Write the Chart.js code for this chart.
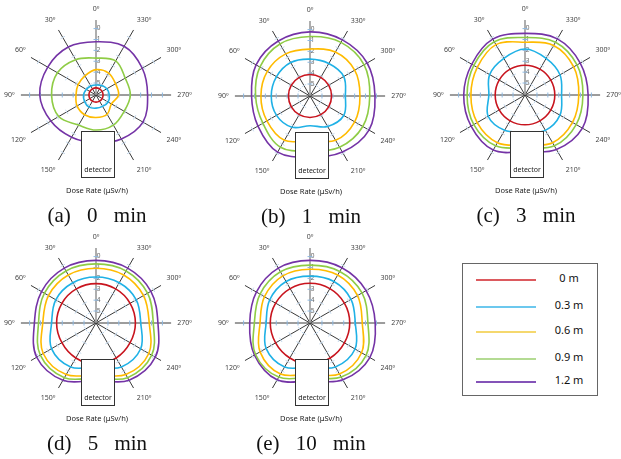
<!DOCTYPE html>
<html>
<head>
<meta charset="utf-8">
<script src="https://cdn.jsdelivr.net/npm/chart.js@4.4.1/dist/chart.umd.min.js"></script>
<style>
  body { margin: 0; background: #fff; }
  #page { position: relative; width: 621px; height: 459px; overflow: hidden; font-family: "Noto Sans", Arial, sans-serif; }
  .plot { position: absolute; width: 192px; height: 192px; }
  .detector { position: absolute; width: 32px; height: 45px; border: 1.5px solid #333; background: #fff;
              font-size: 7px; color: #222; text-align: center; box-sizing: content-box; }
  .detector span { position: absolute; left: 0; right: 0; bottom: 3px; }
  .unit { position: absolute; width: 120px; text-align: center; font-size: 7.5px; color: #222; }
  .caption { position: absolute; width: 200px; text-align: center; font-family: "Liberation Serif", serif;
             font-size: 21px; color: #111; word-spacing: 11px; white-space: nowrap; }
  #legend { position: absolute; left: 462px; top: 263px; width: 134px; height: 131px; border: 1px solid #666; }
  .row { position: absolute; left: 13px; height: 10px; }
  .row i { position: absolute; left: 0; top: 5px; width: 60px; height: 2px; }
  .row b { position: absolute; left: 73px; width: 40px; text-align: center; top: -4px; font-weight: normal;
           font-size: 11px; color: #111; white-space: nowrap; }
</style>
</head>
<body>
<div id="page"></div>
<script>
// spokes, clockwise from the top (Chart.js order); 180° has no label or line
const angleLabels = ['0º', '330º', '300º', '270º', '240º', '210º', '', '150º', '120º', '90º', '60º', '30º'];
const doseTicks = [0, 1, 2, 3, 4, 5];
const distances = ['0 m', '0.3 m', '0.6 m', '0.9 m', '1.2 m'];
const panelNames = ['(a) 0 min', '(b) 1 min', '(c) 3 min', '(d) 5 min', '(e) 10 min'];

// dose-rate axis values read at each spoke, rows follow distances
const min0 = [
  [5.45, 5.45, 5.45, 5.45, 5.45, 5.45, 5.45, 5.45, 5.45, 5.45, 5.45, 5.45],
  [5.18, 5.09, 4.95, 4.87, 4.81, 4.89, 4.89, 4.81, 4.89, 4.95, 5.07, 5.15],
  [3.77, 3.78, 4.03, 4.03, 4.46, 4.06, 4.03, 4.00, 4.09, 4.26, 4.20, 4.07],
  [2.71, 2.48, 3.00, 2.94, 3.11, 2.91, 2.88, 2.91, 2.15, 2.02, 2.01, 2.35],
  [1.21, 0.93, 1.19, 1.36, 1.12, 1.44, 1.73, 1.62, 1.31, 0.93, 0.98, 1.01]
];
const min1 = [
  [4.12, 4.12, 4.12, 4.12, 4.12, 4.12, 4.12, 4.12, 4.12, 4.12, 4.12, 4.12],
  [2.71, 2.65, 2.52, 2.85, 2.52, 2.87, 3.37, 2.79, 2.55, 2.54, 2.55, 2.55],
  [1.79, 1.44, 1.36, 1.51, 1.36, 1.40, 2.02, 1.40, 1.53, 1.59, 1.57, 1.63],
  [0.64, 0.41, 0.36, 0.61, 0.50, 0.67, 1.07, 0.67, 1.10, 1.10, 0.78, 0.58],
  [0.21, 0.15, 0.04, 0.13, -0.16, 0.15, 0.50, 0.15, 0.58, 0.73, 0.38, 0.27]
];
const min3 = [
  [3.36, 3.36, 3.36, 3.36, 3.36, 3.36, 3.36, 3.36, 3.36, 3.36, 3.36, 3.36],
  [1.88, 2.22, 2.39, 2.74, 2.39, 2.35, 2.71, 2.35, 2.19, 2.78, 2.35, 2.22],
  [1.25, 0.84, 0.93, 1.16, 1.06, 1.04, 1.51, 1.04, 1.03, 1.13, 1.04, 0.76],
  [0.82, 0.50, 0.58, 0.78, 0.67, 0.71, 1.27, 0.71, 0.67, 0.78, 0.67, 0.45],
  [0.44, 0.15, 0.24, 0.30, 0.01, 0.32, 0.90, 0.26, 0.38, 0.47, 0.45, 0.17]
];
const min5 = [
  [2.48, 2.48, 2.48, 2.48, 2.48, 2.39, 2.31, 2.39, 2.48, 2.48, 2.48, 2.48],
  [1.88, 1.83, 1.83, 1.99, 1.36, 1.44, 2.07, 1.44, 1.38, 2.02, 1.83, 1.83],
  [1.07, 1.01, 1.06, 1.21, 0.50, 0.63, 1.36, 0.63, 0.50, 1.21, 1.06, 1.01],
  [0.67, 0.58, 0.63, 0.84, 0.19, 0.30, 1.07, 0.30, 0.19, 0.82, 0.63, 0.58],
  [0.35, 0.28, 0.28, 0.41, -0.19, 0.03, 0.84, 0.03, -0.19, 0.44, 0.32, 0.28]
];
const min10 = [
  [2.45, 2.45, 2.45, 2.45, 2.45, 2.39, 2.31, 2.39, 2.45, 2.45, 2.45, 2.45],
  [1.79, 1.70, 1.75, 1.94, 1.32, 1.44, 2.07, 1.44, 1.44, 2.07, 1.83, 1.70],
  [1.16, 1.01, 1.06, 1.30, 0.63, 0.69, 1.42, 0.69, 0.80, 1.51, 1.27, 1.10],
  [0.78, 0.63, 0.58, 0.78, 0.15, 0.36, 1.13, 0.36, 0.32, 0.99, 0.80, 0.67],
  [0.35, 0.24, 0.15, 0.11, -0.25, 0.07, 0.78, 0.07, 0.21, 0.56, 0.41, 0.28]
];

const panels = [min0, min1, min3, min5, min10];
const centers = [[97, 96], [311, 97], [526, 96], [97, 324], [311, 324]];
const colors = ['#c8141e', '#1fb1e6', '#ffbb00', '#8fcc45', '#7433a6'];
const legendColors = ['#dc5a5f', '#6cc8ee', '#f5d86e', '#b4db93', '#8453b8'];

const page = document.getElementById('page');

// small cross ticks on the spokes, as in the original axes
const spokeTicks = {
  id: 'spokeTicks',
  beforeDatasetsDraw(chart) {
    const s = chart.scales.r;
    const ctx = chart.ctx;
    ctx.save();
    ctx.lineWidth = 1;
    for (let i = 0; i < angleLabels.length; i++) {
      if (!angleLabels[i]) continue;
      const a = s.getIndexAngle(i) - Math.PI / 2;
      const nx = -Math.sin(a), ny = Math.cos(a);
      ctx.strokeStyle = (i % 3 === 0) ? '#8db8e0' : '#c3d8ec';
      doseTicks.forEach(v => {
        const p = s.getPointPositionForValue(i, v);
        ctx.beginPath();
        ctx.moveTo(p.x - nx * 2.5, p.y - ny * 2.5);
        ctx.lineTo(p.x + nx * 2.5, p.y + ny * 2.5);
        ctx.stroke();
      });
    }
    ctx.restore();
  }
};

panels.forEach((rows, k) => {
  const [cx, cy] = centers[k];
  const box = document.createElement('div');
  box.className = 'plot';
  box.style.left = (cx - 94) + 'px';
  box.style.top = (cy - 96) + 'px';
  const cv = document.createElement('canvas');
  cv.width = 192; cv.height = 192;
  box.appendChild(cv);
  page.appendChild(box);

  new Chart(cv, {
    type: 'radar',
    data: {
      labels: angleLabels,
      datasets: rows.map((vals, j) => ({
        label: distances[j],
        data: vals,
        borderColor: colors[j],
        borderWidth: 1.6,
        pointRadius: 0,
        pointHitRadius: 0,
        fill: false,
        tension: 0.36
      }))
    },
    options: {
      responsive: false,
      maintainAspectRatio: false,
      animation: false,
      events: [],
      plugins: { legend: { display: false }, tooltip: { enabled: false } },
      scales: {
        r: {
          reverse: true,
          min: -0.8,
          max: 6.1,
          grid: { display: false },
          angleLines: {
            color: c => c.index === 6 ? 'rgba(0,0,0,0)' : (c.index === 0 ? '#9a9a9a' : '#3a3a3a'),
            lineWidth: c => c.index === 0 ? 1.6 : 1
          },
          pointLabels: { font: { size: 7, family: 'Noto Sans' }, color: '#444', padding: 1 },
          ticks: {
            stepSize: 1,
            showLabelBackdrop: false,
            color: '#666',
            font: { size: 6.5, family: 'Noto Sans' },
            callback: v => doseTicks.includes(v) ? '   ' + v : ''
          }
        }
      }
    },
    plugins: [spokeTicks]
  });

  const det = document.createElement('div');
  det.className = 'detector';
  det.style.left = (cx - 16) + 'px';
  det.style.top = (cy + 35) + 'px';
  det.innerHTML = '<span>detector</span>';
  page.appendChild(det);

  const unit = document.createElement('div');
  unit.className = 'unit';
  unit.style.left = (cx - 60) + 'px';
  unit.style.top = (cy + 89) + 'px';
  unit.textContent = 'Dose Rate (μSv/h)';
  page.appendChild(unit);

  const cap = document.createElement('div');
  cap.className = 'caption';
  cap.style.left = (cx - 100) + 'px';
  cap.style.top = (cy + 107) + 'px';
  cap.textContent = panelNames[k];
  page.appendChild(cap);
});

// legend box
const legend = document.createElement('div');
legend.id = 'legend';
[15, 42, 67, 94, 117].forEach((y, j) => {
  const r = document.createElement('div');
  r.className = 'row';
  r.style.top = (y - 5) + 'px';
  r.innerHTML = '<i style="background:' + legendColors[j] + '"></i><b>' + distances[j] + '</b>';
  legend.appendChild(r);
});
page.appendChild(legend);
</script>
</body>
</html>
